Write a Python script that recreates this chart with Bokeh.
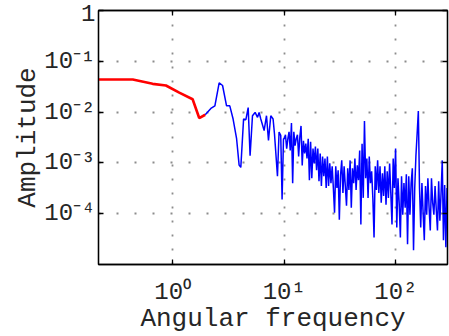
from bokeh.plotting import figure
from bokeh.models import Range1d, FixedTicker, LogAxis
from bokeh.embed import file_html
from bokeh.resources import INLINE

# ---- data ----
red_freq = [0.2166, 0.439, 0.662, 0.871, 1.146, 1.51, 1.73, 1.957]
red_amp = [0.0437, 0.0437, 0.036, 0.0334, 0.0241, 0.0179, 0.00764, 0.00887]

blue_freq = [1.957, 2.20, 2.39, 2.61, 2.80, 3.04, 3.25, 3.48, 3.74, 3.94,
             4.08, 4.32, 4.53, 4.75, 4.94, 5.19, 5.48, 5.76, 5.95, 6.16,
             6.60, 6.93, 7.22, 7.57, 7.94, 8.17, 8.69, 8.98, 9.30, 9.56, 9.84,
             10.00, 10.25, 10.51, 10.77, 11.04, 11.31, 11.60, 11.89, 12.18, 12.49,
             12.80, 13.12, 13.45, 13.79, 14.13, 14.48, 14.85, 15.22, 15.60, 15.99,
             16.39, 16.80, 17.22, 17.65, 18.09, 18.54, 19.01, 19.48, 19.97, 20.47,
             20.98, 21.50, 22.04, 22.59, 23.16, 23.74, 24.33, 24.94, 25.56, 26.20,
             26.86, 27.53, 28.21, 28.92, 29.64, 30.38, 31.14, 31.92, 32.72, 33.54,
             34.37, 35.23, 36.11, 37.02, 37.94, 38.89, 39.86, 40.86, 41.88, 42.93,
             44.00, 45.10, 46.23, 47.38, 48.57, 49.78, 51.02, 52.30, 53.61, 54.95,
             56.32, 57.73, 59.17, 60.65, 62.17, 63.72, 65.32, 66.95, 68.62, 70.34,
             72.10, 73.90, 75.75, 77.64, 79.58, 81.57, 83.61, 85.70, 87.85, 90.04,
             92.29, 94.60, 96.97, 99.39, 101.9, 104.4, 107.0, 109.7, 112.4, 115.2,
             118.1, 121.1, 124.1, 127.2, 130.4, 133.6, 137.0, 140.4, 143.9, 147.5,
             151.2, 155.0, 158.9, 162.8, 166.9, 171.1, 175.3, 179.7, 184.2, 188.8,
             193.5, 198.4, 203.3, 208.4, 213.6, 219.0, 224.4, 230.1, 235.8, 241.7,
             247.8, 254.0, 260.3, 266.8, 273.5, 280.3, 287.3, 290.1]
blue_amp = [0.00887, 0.0118, 0.0133, 0.0377, 0.0334, 0.0133, 0.0133, 0.00731, 0.00299, 0.000906,
            0.000818, 0.00731, 0.00708, 0.0123, 0.00138, 0.00848, 0.00986, 0.00789, 0.00986, 0.00731,
            0.00434, 0.00848, 0.00277, 0.00848, 0.00731, 0.00374, 0.000547, 0.00404, 0.00347, 0.000190, 0.00299,
            0.00299, 0.00358, 0.00191, 0.00299, 0.00409, 0.00175, 0.00611, 0.000400, 0.00409, 0.00219,
            0.00299, 0.00358, 0.00134, 0.00327, 0.00535, 0.000894, 0.00273, 0.00153, 0.00239, 0.00122,
            0.00299, 0.000457, 0.00262, 0.000500, 0.00191, 0.000977, 0.00209, 0.000715, 0.00191, 0.000437,
            0.00153, 0.000350, 0.00134, 0.000547, 0.00122, 0.000320, 0.00134, 0.000350, 0.000977, 0.000400,
            0.000855, 0.000320, 0.000105, 0.000855, 0.000320, 0.000715, 0.0000764, 0.000572, 0.00112, 0.000256,
            0.000855, 0.000350, 0.000143, 0.000782, 0.000292, 0.00112, 0.000131, 0.000782, 0.000400, 0.00122,
            0.000292, 0.000894, 0.000457, 0.00175, 0.0000611, 0.00239, 0.000205, 0.00668, 0.000500, 0.00122,
            0.000205, 0.00134, 0.000400, 0.000684, 0.000205, 0.0000342, 0.000855, 0.000292, 0.00112, 0.000256,
            0.000855, 0.000164, 0.000625, 0.000224, 0.000855, 0.000150, 0.000684, 0.000205, 0.000977, 0.000256,
            0.0000611, 0.00122, 0.000320, 0.00191, 0.0000535, 0.000500, 0.000164, 0.0000342, 0.000547, 0.0000957,
            0.000400, 0.000131, 0.000598, 0.0000250, 0.000547, 0.0000957, 0.000400, 0.000782, 0.0000191, 0.000320,
            0.00140, 0.00374, 0.0105, 0.000320, 0.0000535, 0.000400, 0.000105, 0.0000299, 0.000350, 0.0000957,
            0.000500, 0.000131, 0.0000468, 0.000500, 0.000164, 0.0000957, 0.000350, 0.000120, 0.0000468, 0.000437,
            0.0000731, 0.000256, 0.00112, 0.0000299, 0.000366, 0.0000219, 0.000320, 0.000205]

x_ticks = [1, 10, 100]
x_tick_labels = ["10\u2070", "10\u00b9", "10\u00b2"]
y_ticks = [1, 0.1, 0.01, 0.001, 0.0001]
y_tick_labels = ["1", "10\u207b\u00b9", "10\u207b\u00b2", "10\u207b\u00b3", "10\u207b\u2074"]
x_min, x_max = 0.2166, 290.0
y_min, y_max = 1e-5, 1.0

FONT = "Liberation Mono"
TXT = "#262626"

p = figure(width=449, height=336, x_axis_type="log", y_axis_type="log",
           x_range=Range1d(x_min, x_max), y_range=Range1d(y_min, y_max),
           output_backend="svg", toolbar_location=None,
           min_border_left=98, min_border_right=2, min_border_top=10, min_border_bottom=68)
p.background_fill_color = "white"
p.border_fill_color = "white"
p.outline_line_color = "black"
p.outline_line_width = 1.3

for ax, ticks, labels in ((p.xaxis[0], x_ticks, x_tick_labels), (p.yaxis[0], y_ticks, y_tick_labels)):
    ax.ticker = FixedTicker(ticks=ticks)
    ax.major_label_overrides = dict(zip(ticks, labels))
    ax.major_label_text_font = FONT
    ax.major_label_text_font_size = "24px"
    ax.major_label_text_color = TXT
    ax.major_tick_in = 5
    ax.major_tick_out = 0
    ax.minor_tick_line_color = None
    ax.axis_line_color = "black"
    ax.axis_line_width = 1.3
    ax.major_tick_line_width = 1.3
    ax.axis_label_text_font = FONT
    ax.axis_label_text_font_size = "26px"
    ax.axis_label_text_font_style = "normal"
    ax.axis_label_text_color = TXT

p.xaxis.axis_label = "Angular frequency"
p.yaxis.axis_label = "Amplitude"
p.xaxis.major_label_standoff = 14
p.yaxis.major_label_standoff = 3
p.xaxis.axis_label_standoff = -5
p.yaxis.axis_label_standoff = -2

for place, ticks in (("above", x_ticks), ("right", y_ticks)):
    ax = LogAxis(ticker=FixedTicker(ticks=ticks), major_label_text_font_size="1px",
                 major_label_overrides={t: "" for t in ticks},
                 major_label_standoff=0, major_tick_in=5, major_tick_out=0,
                 minor_tick_line_color=None, axis_line_color="black",
                 axis_line_width=1.3, major_tick_line_width=1.3)
    p.add_layout(ax, place)

p.xgrid.ticker = FixedTicker(ticks=x_ticks)
p.ygrid.ticker = FixedTicker(ticks=y_ticks[1:])
p.xgrid.grid_line_color = "#8c8c8c"
p.xgrid.grid_line_width = 1.8
p.xgrid.grid_line_dash = "2 12"
p.ygrid.grid_line_color = "#8c8c8c"
p.ygrid.grid_line_width = 1.8
p.ygrid.grid_line_dash = "2 16"

p.line(blue_freq, blue_amp, line_color="#0000ff", line_width=1.5)
p.line(red_freq, red_amp, line_color="#ff0000", line_width=2.6)

open("out.html", "w").write(file_html(p, INLINE))
